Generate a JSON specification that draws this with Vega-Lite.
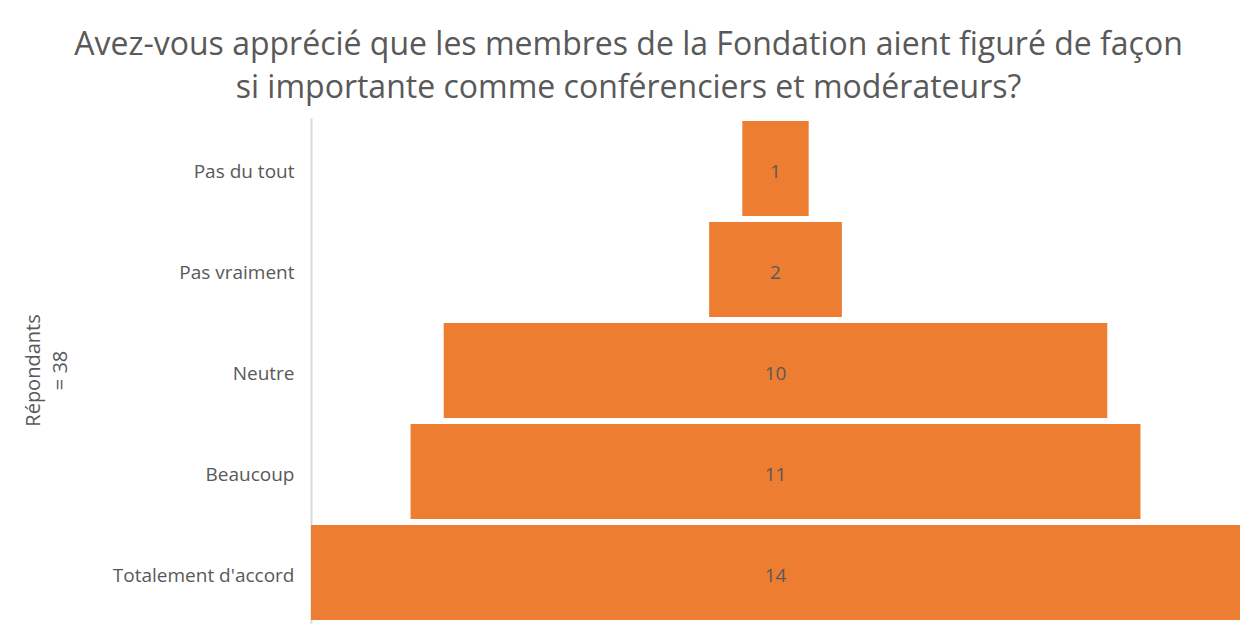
{
  "$schema": "https://vega.github.io/schema/vega-lite/v6.json",
  "autosize": {"type": "none"},
  "width": 929,
  "height": 505,
  "padding": {"left": 311, "top": 118, "right": 15, "bottom": 17},
  "background": "white",
  "config": {"view": {"stroke": null}, "font": "Open Sans"},
  "title": {
    "text": ["Avez-vous apprécié que les membres de la Fondation aient figuré de façon", "si importante comme conférenciers et modérateurs?"],
    "fontSize": 32,
    "fontWeight": "normal",
    "color": "#595959",
    "anchor": "middle",
    "dx": -147,
    "offset": 13,
    "lineHeight": 43,
    "font": "Open Sans"
  },
  "data": {
    "values": [
      {"categorie": "Pas du tout", "n": 1},
      {"categorie": "Pas vraiment", "n": 2},
      {"categorie": "Neutre", "n": 10},
      {"categorie": "Beaucoup", "n": 11},
      {"categorie": "Totalement d'accord", "n": 14}
    ]
  },
  "encoding": {
    "y": {
      "field": "categorie",
      "type": "nominal",
      "sort": null,
      "scale": {"paddingInner": 0.06, "paddingOuter": 0.03},
      "axis": {
        "title": ["Répondants", "= 38"],
        "titleFontSize": 20,
        "titleFontWeight": "normal",
        "titleColor": "#595959",
        "titleX": -268,
        "titleY": 252,
        "titleAngle": -90,
        "titleAlign": "center",
        "titleBaseline": "bottom",
        "titleLineHeight": 27,
        "labelFontSize": 19,
        "labelLimit": 300,
        "labelColor": "#595959",
        "labelPadding": 17,
        "labelOffset": 3,
        "ticks": false,
        "domainColor": "#d9d9d9",
        "domainWidth": 2
      }
    }
  },
  "layer": [
    {
      "mark": {"type": "bar", "color": "#ED7D31"},
      "encoding": {
        "x": {
          "field": "n",
          "type": "quantitative",
          "stack": "center",
          "scale": {"domain": [0, 14]},
          "axis": null
        }
      }
    },
    {
      "mark": {"type": "text", "fontSize": 19, "color": "#595959", "font": "Open Sans", "dy": 3},
      "encoding": {
        "x": {"datum": 7, "type": "quantitative", "scale": {"domain": [0, 14]}},
        "text": {"field": "n", "type": "quantitative"}
      }
    }
  ]
}
